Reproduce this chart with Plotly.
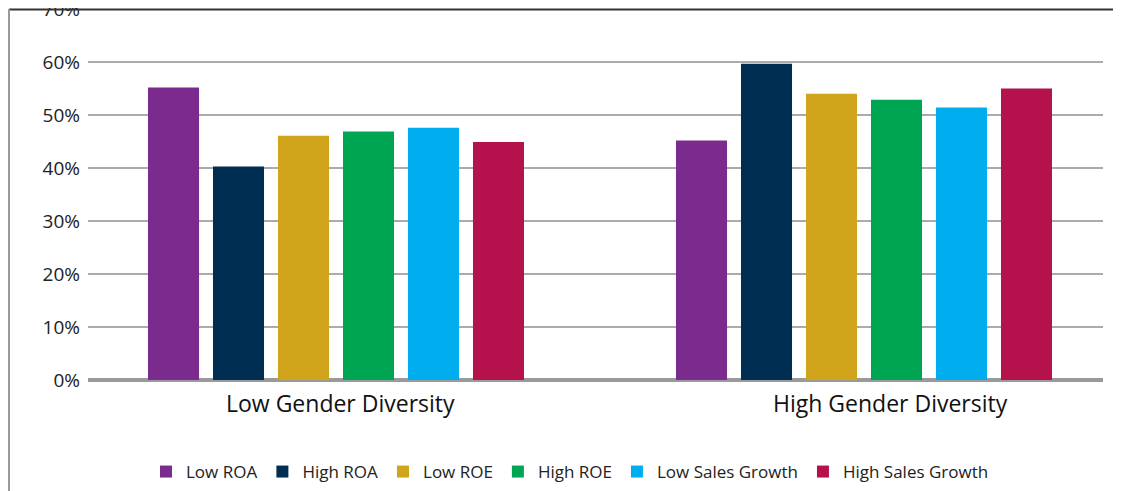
import plotly.graph_objects as go

categories = ["Low Gender Diversity", "High Gender Diversity"]
series_names = ["Low ROA", "High ROA", "Low ROE", "High ROE", "Low Sales Growth", "High Sales Growth"]
low_roa = [0.552, 0.452]
high_roa = [0.403, 0.597]
low_roe = [0.461, 0.540]
high_roe = [0.469, 0.529]
low_sales = [0.476, 0.514]
high_sales = [0.449, 0.550]
tick_vals = [0, 0.1, 0.2, 0.3, 0.4, 0.5, 0.6, 0.7]
tick_text = ["0%", "10%", "20%", "30%", "40%", "50%", "60%", "70%"]

colors = ["#7B2A8E", "#002E52", "#D0A41B", "#00A551", "#00AEEF", "#B5124D"]
values = [low_roa, high_roa, low_roe, high_roe, low_sales, high_sales]

FONT = "Open Sans"
fig = go.Figure()
for name, vals, col in zip(series_names, values, colors):
    fig.add_trace(go.Bar(name=name, x=[0, 1], y=vals, marker=dict(color=col, line=dict(width=0))))

# page body has an 8px margin: figure origin sits at screen (8, 8)
OFF = 8
W, H = 1121 - OFF, 491 - OFF
ml, mr, mt, mb = 88 - OFF, 18, 9 - OFF, 111
pw = W - ml - mr
ph = H - mt - mb
unit = 528.0
x0 = 0 - (336 - 88) / unit
x1 = 1 + (1103 - 864) / unit

fig.update_layout(
    width=W, height=H,
    margin=dict(l=ml, r=mr, t=mt, b=mb, pad=0, autoexpand=False),
    plot_bgcolor="white", paper_bgcolor="white",
    barmode="group", bargap=0.2614, bargroupgap=0.215,
    showlegend=True,
    legend=dict(orientation="h", x=(570 - 88) / pw, xanchor="center",
                y=-(472 - 380) / ph, yanchor="middle",
                font=dict(family=FONT, size=17, color="#222"), itemwidth=30,
                traceorder="normal"),
    font=dict(family=FONT, color="#222"),
)
fig.update_xaxes(range=[x0, x1], showticklabels=False, showgrid=False, zeroline=False,
                 showline=False, ticks="", fixedrange=True, automargin=False)
fig.update_yaxes(range=[0, 0.7001], tickvals=tick_vals, ticktext=tick_text,
                 showgrid=True, gridcolor="#ababab", gridwidth=2,
                 zeroline=True, zerolinecolor="#9a9a9a", zerolinewidth=4,
                 showline=False, ticks="", ticklabelstandoff=7, ticklabeloverflow="allow",
                 automargin=False,
                 tickfont=dict(family=FONT, size=19, color="#222"))

label_x = [(340 - 336) / unit, 1 + (890 - 864) / unit]
for cx, cat in zip(label_x, categories):
    fig.add_annotation(x=cx, xref="x", y=-(403 - 380) / ph, yref="paper", text=cat, showarrow=False,
                       font=dict(family=FONT, size=23, color="#111"), yanchor="middle")

def px_x(p):  # screen px -> paper
    return (p - 88) / pw
def px_y(p):
    return (380 - p) / ph

fig.add_shape(type="line", xref="paper", yref="paper", x0=px_x(9), x1=px_x(1125), y0=px_y(9.5), y1=px_y(9.5),
              line=dict(color="#333", width=2), layer="above")
fig.add_shape(type="line", xref="paper", yref="paper", x0=px_x(9), x1=px_x(9), y0=px_y(9), y1=px_y(500),
              line=dict(color="#999", width=2), layer="above")

fig.write_html("out.html")
